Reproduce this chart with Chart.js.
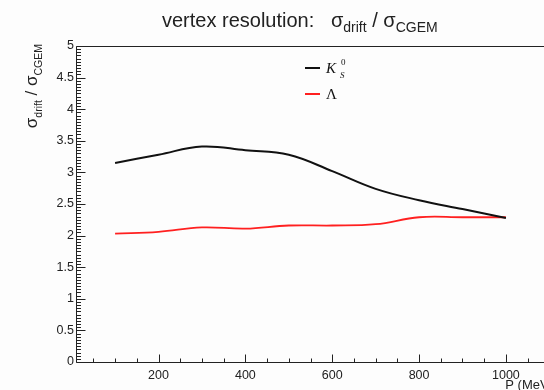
<!DOCTYPE html>
<html lang="en">
<head>
  <meta charset="UTF-8">
  <title>vertex resolution</title>
  <script src="https://cdn.jsdelivr.net/npm/chart.js@4.4.2/dist/chart.umd.min.js"></script>
  <style>
    html, body { margin: 0; padding: 0; background: #fdfdfd; overflow: hidden; }
    #wrap { width: 600px; height: 390px; }
  </style>
</head>
<body>
<div id="wrap"><canvas id="myChart" width="600" height="390"></canvas></div>
<script>
// momentum points (MeV)
const momenta = [100, 200, 300, 400, 500, 600, 700, 800, 900, 1000];
// sigma_drift / sigma_CGEM
const kshortRatio = [3.15, 3.28, 3.41, 3.35, 3.28, 3.02, 2.74, 2.56, 2.42, 2.28];
const lambdaRatio = [2.03, 2.06, 2.13, 2.11, 2.16, 2.16, 2.18, 2.29, 2.29, 2.29];
// axis ticks
const xTicks = [200, 400, 600, 800, 1000];
const yTicks = [0, 0.5, 1, 1.5, 2, 2.5, 3, 3.5, 4, 4.5, 5];
const yTickLabels = ['0', '0.5', '1', '1.5', '2', '2.5', '3', '3.5', '4', '4.5', '5'];

const SANS = '"Liberation Sans", Arial, sans-serif';
const SERIF = '"Liberation Serif", "DejaVu Serif", serif';

function toXY(xs, ys) { return xs.map((x, i) => ({ x: x, y: ys[i] })); }

// ROOT-like frame: inward ticks, labels, titles, legend
const rootFrame = {
  id: 'rootFrame',
  afterDraw(chart) {
    const ctx = chart.ctx;
    const xs = chart.scales.x, ys = chart.scales.y;
    const a = chart.chartArea;
    const L = Math.round(a.left) + 0.5, B = Math.round(a.bottom) + 0.5, T = Math.round(a.top) + 0.5;
    ctx.save();
    ctx.strokeStyle = '#222';
    ctx.lineWidth = 1;
    ctx.beginPath();
    ctx.moveTo(L, B); ctx.lineTo(a.right + 5, B);
    ctx.moveTo(L, B); ctx.lineTo(L, T); ctx.lineTo(a.right + 5, T);
    // x ticks
    for (let v = 50; v <= 1050; v += 50) {
      const px = Math.round(xs.getPixelForValue(v)) + 0.5;
      const len = v % 200 === 0 ? 8 : 4;
      ctx.moveTo(px, B); ctx.lineTo(px, B - len);
    }
    // y ticks
    for (let i = 0; i <= 100; i++) {
      const v = i * 0.05;
      const py = Math.round(ys.getPixelForValue(v)) + 0.5;
      const len = i % 10 === 0 ? 9 : 4.5;
      ctx.moveTo(L, py); ctx.lineTo(L + len, py);
    }
    ctx.stroke();

    ctx.fillStyle = '#222';
    ctx.font = '12.5px ' + SANS;
    ctx.textAlign = 'center';
    ctx.textBaseline = 'alphabetic';
    xTicks.forEach(v => ctx.fillText(String(v), xs.getPixelForValue(v), 379));
    ctx.textAlign = 'right';
    ctx.textBaseline = 'middle';
    yTicks.forEach((v, i) => ctx.fillText(yTickLabels[i], 74, ys.getPixelForValue(v)));

    // x title
    ctx.textAlign = 'right';
    ctx.textBaseline = 'alphabetic';
    ctx.font = '13px ' + SANS;
    ctx.fillText('P (MeV)', 553, 389);

    // main title
    const parts = [
      ['vertex resolution:   \u03c3', 20, 0],
      ['drift', 14, 5],
      [' / \u03c3', 20, 0],
      ['CGEM', 14, 5]
    ];
    drawParts(ctx, parts, 162, 27);

    // y title (rotated)
    ctx.save();
    ctx.translate(37, 44);
    ctx.rotate(-Math.PI / 2);
    const yparts = [
      ['\u03c3', 17, 0],
      ['drift', 10.5, 5],
      [' / \u03c3', 17, 0],
      ['CGEM', 10.5, 5]
    ];
    let w = 0;
    yparts.forEach(p => { ctx.font = p[1] + 'px ' + SANS; w += ctx.measureText(p[0]).width; });
    drawParts(ctx, yparts, -w, 0);
    ctx.restore();

    // legend
    const sets = chart.data.datasets;
    const ly = [68, 94];
    sets.forEach((ds, i) => {
      ctx.strokeStyle = ds.borderColor;
      ctx.lineWidth = 2;
      ctx.beginPath();
      ctx.moveTo(305, ly[i]); ctx.lineTo(320, ly[i]);
      ctx.stroke();
    });
    ctx.fillStyle = '#111';
    ctx.textAlign = 'left';
    ctx.font = 'italic 15px ' + SERIF;
    ctx.fillText('K', 326, 73);
    ctx.font = '9px ' + SERIF;
    ctx.fillText('0', 341, 65);
    ctx.font = 'italic 9px ' + SERIF;
    ctx.fillText('S', 340, 78);
    ctx.font = '15px ' + SERIF;
    ctx.fillText('\u039b', 326, 99);
    ctx.restore();
  }
};

function drawParts(ctx, parts, x, y) {
  ctx.textAlign = 'left';
  ctx.textBaseline = 'alphabetic';
  parts.forEach(p => {
    ctx.font = p[1] + 'px ' + SANS;
    ctx.fillText(p[0], x, y + p[2]);
    x += ctx.measureText(p[0]).width;
  });
}

new Chart(document.getElementById('myChart').getContext('2d'), {
  type: 'line',
  data: {
    datasets: [
      {
        label: 'K_S^0',
        data: toXY(momenta, kshortRatio),
        borderColor: '#111111',
        borderWidth: 2,
        pointRadius: 0,
        tension: 0.4,
        fill: false
      },
      {
        label: '\u039b',
        data: toXY(momenta, lambdaRatio),
        borderColor: '#ff2020',
        borderWidth: 1.8,
        pointRadius: 0,
        tension: 0.4,
        fill: false
      }
    ]
  },
  options: {
    responsive: false,
    animation: false,
    layout: { padding: { left: 76, top: 46, right: 55, bottom: 28 } },
    plugins: { legend: { display: false }, tooltip: { enabled: false } },
    scales: {
      x: { type: 'linear', min: 10, max: 1090, display: false },
      y: { min: 0, max: 5, display: false }
    }
  },
  plugins: [rootFrame]
});
</script>
</body>
</html>
